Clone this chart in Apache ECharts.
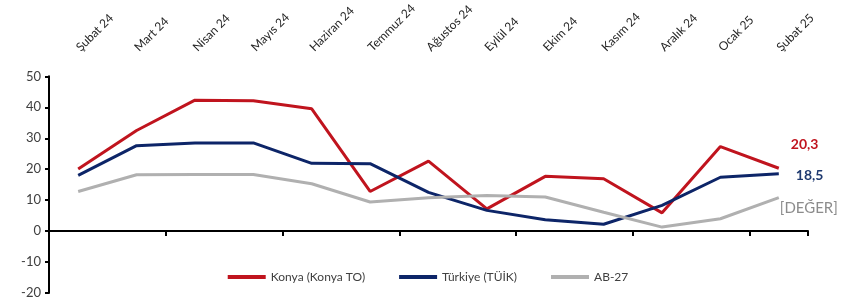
<!doctype html>
<html lang="tr">
<head>
    <meta charset="UTF-8">
    <title>Konya / Türkiye / AB-27</title>
    <script src="https://cdn.jsdelivr.net/npm/echarts@6/dist/echarts.min.js"></script>
    <style>
        html, body { margin: 0; padding: 0; background: #fff; }
        #chart { width: 856px; height: 306px; }
    </style>
</head>
<body>
<div id="chart"></div>
<script>
    // aylar
    var months = ['Şubat 24', 'Mart 24', 'Nisan 24', 'Mayıs 24', 'Haziran 24', 'Temmuz 24', 'Ağustos 24',
        'Eylül 24', 'Ekim 24', 'Kasım 24', 'Aralık 24', 'Ocak 25', 'Şubat 25'];
    var konya = [20.1, 32.5, 42.3, 42.1, 39.5, 12.8, 22.6, 7.2, 17.7, 16.9, 5.9, 27.3, 20.3];
    var turkiye = [18.0, 27.6, 28.5, 28.5, 21.9, 21.8, 12.5, 6.7, 3.7, 2.2, 8.3, 17.4, 18.5];
    var ab27 = [12.8, 18.2, 18.3, 18.3, 15.3, 9.4, 10.8, 11.5, 11.0, 6.1, 1.3, 4.0, 10.8];
    var yTicks = { min: -20, max: 50, interval: 10 };

    var FONT = 'Lato, "Open Sans", sans-serif';

    function virgul(p) {
        return String(p.value).replace('.', ',');
    }

    var chart = echarts.init(document.getElementById('chart'));
    var option = {
        animation: false,
        backgroundColor: '#fff',
        grid: { left: 49, right: 48, top: 76, bottom: 13 },
        legend: {
            bottom: 18,
            left: 'center',
            itemWidth: 38,
            itemHeight: 4,
            itemGap: 34,
            icon: 'rect',
            textStyle: { fontFamily: FONT, fontSize: 12, color: '#404040' },
            data: ['Konya (Konya TO)', 'Türkiye (TÜİK)', 'AB-27']
        },
        xAxis: [{
            type: 'category',
            data: months,
            boundaryGap: true,
            axisLine: { onZero: true, lineStyle: { color: '#000', width: 2 } },
            axisTick: { show: true, length: 5, lineStyle: { color: '#000', width: 2 } },
            axisLabel: { show: false }
        }, {
            type: 'category',
            data: months,
            position: 'top',
            boundaryGap: true,
            axisLine: { show: false },
            axisTick: { show: false },
            axisLabel: {
                rotate: -45,
                margin: 27,
                interval: 0,
                fontFamily: FONT,
                fontSize: 12,
                color: '#262626'
            }
        }],
        yAxis: {
            type: 'value',
            min: yTicks.min,
            max: yTicks.max,
            interval: yTicks.interval,
            splitLine: { show: false },
            axisLine: { show: true, lineStyle: { color: '#000', width: 2 } },
            axisTick: { show: true, length: 4, lineStyle: { color: '#000', width: 2 } },
            axisLabel: { fontFamily: FONT, fontSize: 13, color: '#404040', margin: 8 }
        },
        series: [{
            name: 'Konya (Konya TO)',
            type: 'line',
            symbol: 'none',
            color: '#C0141E',
            lineStyle: { width: 3, color: '#C0141E' },
            endLabel: {
                show: true, distance: 12, offset: [0, -24],
                fontFamily: FONT, fontSize: 14, fontWeight: 'bold', color: '#C0141E',
                formatter: virgul
            },
            data: konya
        }, {
            name: 'Türkiye (TÜİK)',
            type: 'line',
            symbol: 'none',
            color: '#0D2568',
            lineStyle: { width: 3, color: '#0D2568' },
            endLabel: {
                show: true, distance: 17, offset: [0, 2],
                fontFamily: FONT, fontSize: 14, fontWeight: 'bold', color: '#1F3A70',
                formatter: virgul
            },
            data: turkiye
        }, {
            name: 'AB-27',
            type: 'line',
            symbol: 'none',
            color: '#B0B0B0',
            lineStyle: { width: 3, color: '#B0B0B0' },
            endLabel: {
                show: true, distance: 1, offset: [0, 10],
                fontFamily: FONT, fontSize: 15, color: '#8C8C8C',
                formatter: '[DEĞER]'
            },
            data: ab27
        }]
    };
    chart.setOption(option);
</script>
</body>
</html>
